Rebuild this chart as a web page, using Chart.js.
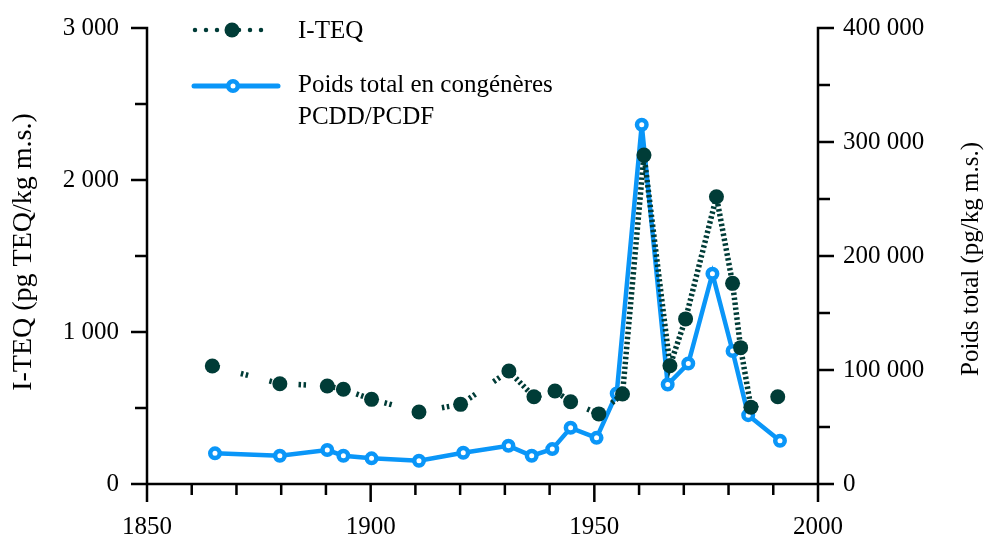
<!DOCTYPE html>
<html lang="fr">
<head>
<meta charset="utf-8">
<title>I-TEQ et poids total PCDD/PCDF</title>
<script src="https://cdn.jsdelivr.net/npm/chart.js@4/dist/chart.umd.min.js"></script>
<style>
  html, body { margin: 0; padding: 0; background: #fff; }
  #graf { display: block; }
</style>
</head>
<body>
<canvas id="graf" width="990" height="538"></canvas>
<script>
// I-TEQ (axe de gauche, pg TEQ/kg m.s.)
var anneesTeq = [1864.6, 1879.7, 1890.3, 1893.9, 1900.2, 1910.8, 1920.1, 1930.9, 1936.5, 1941.2, 1944.7,
                 1951.0, 1956.3, 1961.1, 1966.9, 1970.4, 1977.3, 1980.9, 1982.7, 1985.0, 1991.0];
var valeursTeq = [776, 660, 645, 623, 557, 474, 524, 743, 574, 612, 541,
                  461, 592, 2164, 778, 1086, 1890, 1320, 897, 505, 574];

// Poids total en congeneres (axe de droite, pg/kg m.s.)
var anneesPoids = [1865.2, 1879.7, 1890.3, 1893.9, 1900.2, 1910.8, 1920.7, 1930.8, 1936.0, 1940.6,
                   1944.7, 1950.5, 1955.0, 1960.6, 1966.4, 1971.0, 1976.4, 1980.9, 1984.4, 1991.5];
var valeursPoids = [26900, 24800, 29800, 24800, 22500, 20400, 27400, 33500, 24800, 30600,
                    49300, 40500, 79400, 315100, 87300, 105700, 184400, 116700, 60400, 37900];

// graduations
var ticksX = [1850, 1900, 1950, 2000];
var ticksTeq = [0, 1000, 2000, 3000];
var ticksPoids = [0, 100000, 200000, 300000, 400000];

var nomTeq = 'I-TEQ';
var nomPoids = ['Poids total en congénères', 'PCDD/PCDF'];
var titreTeq = 'I-TEQ (pg TEQ/kg m.s.)';
var titrePoids = 'Poids total (pg/kg m.s.)';

var couleurTeq = '#003c37';
var couleurPoids = '#0a96f8';
var police = '25px "Liberation Serif", "Times New Roman", serif';

function formatNombre(v) {
  return String(v).replace(/\B(?=(\d{3})+(?!\d))/g, ' ');
}

function enPoints(xs, ys) {
  return xs.map(function (x, i) { return { x: x, y: ys[i] }; });
}

// pointille serre sur les segments raides, clairseme sur les segments plats (comme l'original)
function tiretsTeq(seg) {
  var dx = Math.abs(seg.p1.x - seg.p0.x), dy = Math.abs(seg.p1.y - seg.p0.y);
  return dy > dx ? [2.5, 2.5] : [2.5, 2.5, 2.5, 22];
}

// taille fixe des axes, sans marge automatique
function fixeAxe(largeur, hauteur) {
  return function (s) {
    if (largeur) s.width = largeur;
    if (hauteur) s.height = hauteur;
    s.paddingTop = 0; s.paddingBottom = 0; s.paddingLeft = 0; s.paddingRight = 0;
  };
}

// axes, graduations, titres et legende dessines a la main
var axesMaison = {
  id: 'axesMaison',
  beforeDatasetsDraw: function (chart) {
    var ctx = chart.ctx, a = chart.chartArea;
    var sx = chart.scales.x, sy = chart.scales.y, sy1 = chart.scales.y1;
    ctx.save();
    ctx.strokeStyle = '#000';
    ctx.lineWidth = 2.5;
    ctx.beginPath();
    ctx.moveTo(a.left, a.top - 1.2); ctx.lineTo(a.left, a.bottom);
    ctx.moveTo(a.left, a.bottom); ctx.lineTo(a.right, a.bottom);
    ctx.moveTo(a.right, a.top - 1.2); ctx.lineTo(a.right, a.bottom);
    for (var an = sx.min; an <= sx.max; an += 10) {
      var px = sx.getPixelForValue(an);
      ctx.moveTo(px, a.bottom); ctx.lineTo(px, a.bottom + (an % 50 === 0 ? 18 : 11));
    }
    for (var v = sy.min; v <= sy.max; v += 500) {
      var py = sy.getPixelForValue(v);
      ctx.moveTo(a.left + 1.2, py); ctx.lineTo(a.left - (v % 1000 === 0 ? 16 : 12), py);
    }
    for (var w = sy1.min; w <= sy1.max; w += 50000) {
      var py1 = sy1.getPixelForValue(w);
      ctx.moveTo(a.right - 1.2, py1); ctx.lineTo(a.right + (w % 100000 === 0 ? 16 : 12), py1);
    }
    ctx.stroke();
    ctx.restore();
  },
  afterDraw: function (chart) {
    var ctx = chart.ctx;
    ctx.save();
    ctx.fillStyle = '#000';
    ctx.textBaseline = 'middle';

    // titres des axes
    ctx.textAlign = 'center';
    ctx.save();
    ctx.font = '28px "Liberation Serif", "Times New Roman", serif';
    ctx.translate(24, 252);
    ctx.rotate(-Math.PI / 2);
    ctx.fillText(titreTeq, 0, 0);
    ctx.restore();
    ctx.font = police;
    ctx.save();
    ctx.translate(971, 259);
    ctx.rotate(-Math.PI / 2);
    ctx.fillText(titrePoids, 0, 0);
    ctx.restore();

    // legende
    ctx.lineCap = 'round';
    ctx.strokeStyle = couleurTeq;
    ctx.lineWidth = 4.5;
    ctx.setLineDash([0, 11]);
    ctx.beginPath(); ctx.moveTo(195, 30); ctx.lineTo(272, 30); ctx.stroke();
    ctx.setLineDash([]);
    ctx.fillStyle = couleurTeq;
    ctx.beginPath(); ctx.arc(232, 30, 7.5, 0, Math.PI * 2); ctx.fill();

    ctx.strokeStyle = couleurPoids;
    ctx.lineWidth = 5;
    ctx.beginPath(); ctx.moveTo(194, 86); ctx.lineTo(278, 86); ctx.stroke();
    ctx.fillStyle = '#fff';
    ctx.lineWidth = 4.5;
    ctx.beginPath(); ctx.arc(233, 86, 4.75, 0, Math.PI * 2); ctx.fill(); ctx.stroke();

    ctx.fillStyle = '#000';
    ctx.textAlign = 'left';
    ctx.fillText(nomTeq, 298, 31);
    ctx.fillText(nomPoids[0], 298, 85);
    ctx.fillText(nomPoids[1], 298, 117);
    ctx.restore();
  }
};

var ctxGraf = document.getElementById('graf').getContext('2d');
new Chart(ctxGraf, {
  type: 'line',
  data: {
    datasets: [{
      label: nomTeq,
      data: enPoints(anneesTeq, valeursTeq),
      yAxisID: 'y',
      borderColor: couleurTeq,
      borderWidth: 5.5,
      borderDash: [2.5, 2.5],
      segment: { borderDash: tiretsTeq },
      pointRadius: 7.5,
      pointBorderWidth: 0,
      pointBackgroundColor: couleurTeq,
      tension: 0
    }, {
      label: nomPoids.join(' '),
      data: enPoints(anneesPoids, valeursPoids),
      yAxisID: 'y1',
      borderColor: couleurPoids,
      borderWidth: 4.5,
      pointRadius: 4.75,
      pointBorderWidth: 4.5,
      pointBorderColor: couleurPoids,
      pointBackgroundColor: '#fff',
      tension: 0
    }]
  },
  options: {
    responsive: false,
    animation: false,
    events: [],
    layout: { padding: { top: 28, left: 0, right: 0, bottom: 0 } },
    plugins: { legend: { display: false }, tooltip: { enabled: false } },
    scales: {
      x: {
        type: 'linear', min: 1850, max: 2000,
        grid: { display: false }, border: { display: false },
        afterBuildTicks: function (s) { s.ticks = ticksX.map(function (v) { return { value: v }; }); },
        afterFit: fixeAxe(0, 54),
        ticks: { font: { family: '"Liberation Serif", serif', size: 25 }, color: '#000', padding: 20, maxRotation: 0,
                 callback: function (v) { return String(v); } }
      },
      y: {
        position: 'left', min: 0, max: 3000,
        grid: { display: false }, border: { display: false },
        afterBuildTicks: function (s) { s.ticks = ticksTeq.map(function (v) { return { value: v }; }); },
        afterFit: fixeAxe(147, 0),
        ticks: { font: { family: '"Liberation Serif", serif', size: 25 }, color: '#000', padding: 20,
                 callback: formatNombre }
      },
      y1: {
        position: 'right', min: 0, max: 400000,
        grid: { display: false }, border: { display: false },
        afterBuildTicks: function (s) { s.ticks = ticksPoids.map(function (v) { return { value: v }; }); },
        afterFit: fixeAxe(172, 0),
        ticks: { font: { family: '"Liberation Serif", serif', size: 25 }, color: '#000', padding: 17,
                 callback: formatNombre }
      }
    }
  },
  plugins: [axesMaison]
});
</script>
</body>
</html>
